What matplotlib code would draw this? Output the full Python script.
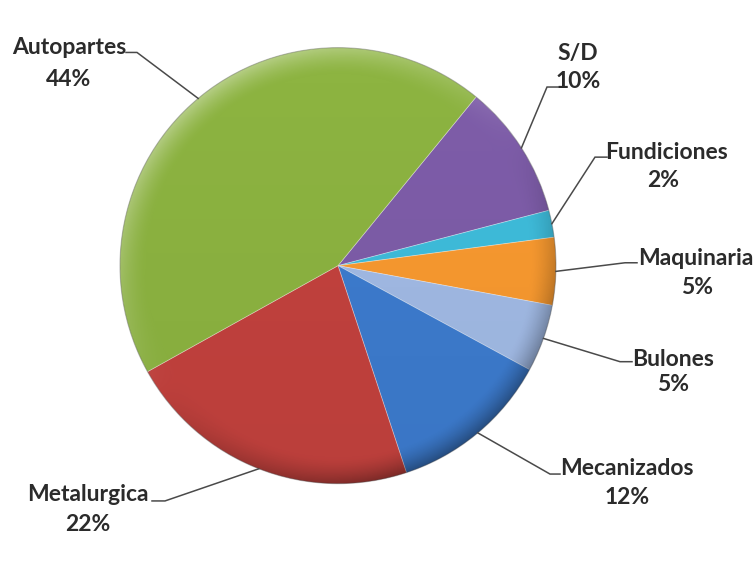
import numpy as np
import matplotlib
matplotlib.use("Agg")
import matplotlib.pyplot as plt
from matplotlib.patches import Circle

# Distribución por rubro
rubros = ["S/D", "Fundiciones", "Maquinaria", "Bulones", "Mecanizados", "Metalurgica", "Autopartes"]
porcentajes = [10, 2, 5, 5, 12, 22, 44]
colores = ["#7E5DA9", "#3FBDDC", "#F99A30", "#A2BBE6", "#3D7CCF", "#C4423E", "#8DB441"]

# Ubicación de las etiquetas (px): línea base de cada renglón, codo del conector y fin del tramo horizontal
pos_nombre = [(578, 51), (666, 154), (696, 264), (673, 370), (627, 483), (88, 510), (69, 45)]
pos_pct = [(578, 80), (663, 183), (697, 295), (673, 396), (627, 513), (88, 541), (69, 78)]
codo = [(547, 79), (595, 152), (625, 262), (620, 365), (550, 482), (165, 510), (137, 43)]
fin_tramo = [(560, 79), (607, 152), (637, 262), (632, 365), (560, 482), (152, 510), (126, 43)]

W, H = 753, 563
CX, CY, RX, RY = 338, 265, 218, 227

plt.rcParams['font.family'] = ['Lato', 'DejaVu Sans']

fig = plt.figure(figsize=(W / 100, H / 100), dpi=100)
ax = fig.add_axes([0, 0, 1, 1])

wedges, _ = ax.pie(porcentajes, colors=colores, startangle=50.7, counterclock=False,
                   wedgeprops=dict(linewidth=0.6))
for w in wedges:
    w.set_edgecolor((1, 1, 1, 0.35))

ax.set_aspect('auto')
ax.set_xlim(-CX / RX, (W - CX) / RX)
ax.set_ylim(-(H - CY) / RY, CY / RY)
ax.axis('off')


def px(p):
    return ((p[0] - CX) / RX, (CY - p[1]) / RY)


# Sombreado: borde claro arriba a la izquierda, oscuro abajo a la derecha
n = 400
g = np.linspace(-1, 1, n)
xx, yy = np.meshgrid(g, g[::-1])
r = np.hypot(xx, yy)
ang = np.arctan2(yy, xx)
direc = np.cos(ang - np.deg2rad(125))
borde = np.clip((r - 0.88) / 0.12, 0, 1) ** 1.5
vert = (1 - yy) / 2
luz = np.clip(borde * direc, 0, 1) * 0.35
sombra = np.clip(-borde * direc, 0, 1) * 0.35 + vert * 0.05
rgba = np.zeros((n, n, 4))
rgba[..., :3] = (luz / (luz + sombra + 1e-9))[..., None]
rgba[..., 3] = np.clip(luz + sombra, 0, 1)
img = ax.imshow(rgba, extent=(-1, 1, -1, 1), interpolation='bilinear', zorder=3)
clip = Circle((0, 0), 1, transform=ax.transData)
img.set_clip_path(clip)
ax.add_patch(Circle((0, 0), 1, fill=False, edgecolor=(0, 0, 0, 0.25), linewidth=0.8, zorder=4))

# Etiquetas con conectores
for w, nombre, pct, pn, pp, cd, ft in zip(wedges, rubros, porcentajes, pos_nombre, pos_pct, codo, fin_tramo):
    medio = np.deg2rad((w.theta1 + w.theta2) / 2)
    borde_pt = (np.cos(medio), np.sin(medio))
    c = px(cd)
    f = px(ft)
    ax.plot([borde_pt[0], c[0], f[0]], [borde_pt[1], c[1], f[1]],
            color="#4a4a4a", linewidth=1.1, zorder=5, solid_joinstyle='miter')
    for texto, p in ((nombre, pn), (f"{pct}%", pp)):
        tx, ty = px(p)
        ax.text(tx, ty, texto, ha='center', va='baseline', fontsize=16.5,
                fontweight='bold', color="#2b2b2b", zorder=6)

fig.savefig("out.png", dpi=100, facecolor="white")
